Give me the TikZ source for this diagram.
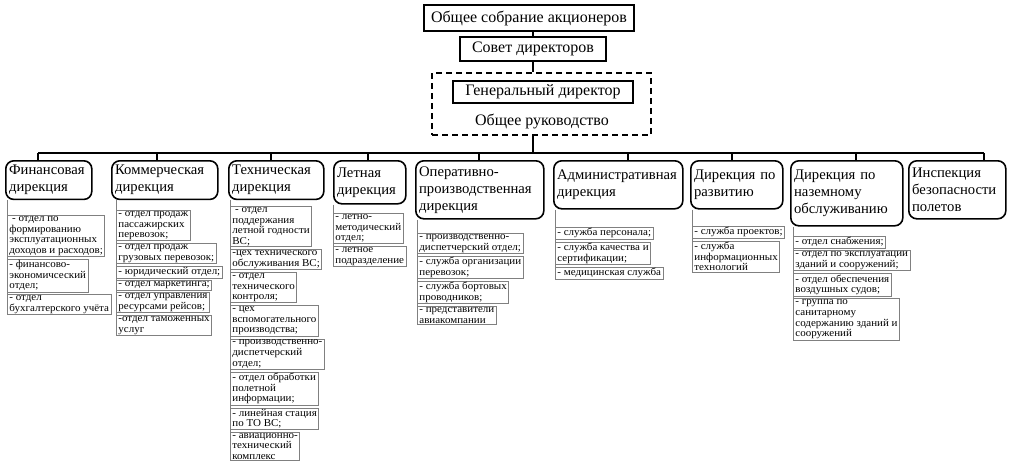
\documentclass[tikz,border=0pt]{standalone}
\usepackage{fontspec}
\setmainfont{Liberation Serif}
\newfontfamily\subfont[FakeStretch=1.05]{Liberation Serif}
\usetikzlibrary{positioning}

\begin{document}
\begin{tikzpicture}[x=0.75pt,y=-0.75pt,line width=1pt]
  \tikzset{topbox/.style={draw, inner sep=1pt, font=\fontsize{12}{14}\selectfont},
    dirbox/.style={draw, line width=1.2pt, rounded corners=6pt, anchor=north west, align=left, inner xsep=2.5pt, font=\fontsize{11}{12.75}\selectfont},
    subbox/.style={draw=gray, line width=0.6pt, anchor=north west, align=left, inner xsep=1.5pt, inner ysep=0.8pt, font=\subfont\fontsize{7.85}{7.95}\selectfont},
    under/.style={below=1.5pt of #1.south west, anchor=north west},
    col/.style={gray, line width=0.6pt}}
  \useasboundingbox (0,0) rectangle (1017,471);

  % top of the structure
  \node[topbox, minimum width=157.5pt, minimum height=19.5pt] (sobr) at (529,18) {Общее собрание акционеров};
  \node[topbox, minimum width=109.5pt, minimum height=18pt] (sovet) at (533,49) {Совет директоров};
  \node[draw, line width=1.1pt, dash pattern=on 4.5pt off 3pt, minimum width=164.25pt, minimum height=46.5pt] (ruk) at (541.5,104) {};
  \node[topbox, minimum width=135pt, minimum height=16.5pt] (gendir) at (543,92) {Генеральный директор};
  \node[font=\fontsize{12}{14}\selectfont, inner sep=0pt] (obruk) at (542,121) {Общее руководство};
  \draw (sobr.south -| sovet) -- (sovet.north);
  \draw (sovet.south) -- (ruk.north -| sovet);

  % directorates
  \node[dirbox, text width=59.5pt, minimum height=26.25pt] (fin) at (5,160) {Финансовая\\дирекция};
  \node[dirbox, text width=74.5pt, minimum height=28.5pt] (kom) at (111,160) {Коммерческая\\дирекция};
  \node[dirbox, text width=66.25pt, minimum height=28.5pt] (tech) at (228,160) {Техническая\\дирекция};
  \node[dirbox, text width=49pt, minimum height=32.25pt] (let) at (333,160) {Летная\\дирекция};
  \node[dirbox, text width=91pt, minimum height=43.5pt] (oper) at (415,160) {Оперативно-\\производственная\\дирекция};
  \node[dirbox, text width=91.75pt, minimum height=36pt] (adm) at (553,160) {Административная\\дирекция};
  \node[dirbox, text width=64pt, minimum height=36pt] (razv) at (690,160) {Дирекция по\\развитию};
  \node[dirbox, text width=79pt, minimum height=48.75pt] (nazem) at (790,160) {Дирекция по\\наземному\\обслуживанию};
  \node[dirbox, text width=67.75pt, minimum height=43.5pt] (insp) at (908,160) {Инспекция\\безопасности\\полетов};

  % bus
  \coordinate (b1) at (38,153);
  \coordinate (b2) at (157,153);
  \coordinate (b3) at (271,153);
  \coordinate (b4) at (368,153);
  \coordinate (b5) at (479,153);
  \coordinate (b6) at (628,153);
  \coordinate (b7) at (732,153);
  \coordinate (b8) at (856,153);
  \coordinate (b9) at (984,153);
  \draw (ruk.south -| sovet) -- (b1 -| sovet);
  \draw (b1) -- (b9);
  \draw (b1) -- (b1 |- fin.north);
  \draw (b2) -- (b2 |- kom.north);
  \draw (b3) -- (b3 |- tech.north);
  \draw (b4) -- (b4 |- let.north);
  \draw (b5) -- (b5 |- oper.north);
  \draw (b6) -- (b6 |- adm.north);
  \draw (b7) -- (b7 |- razv.north);
  \draw (b8) -- (b8 |- nazem.north);
  \draw (b9) -- (b9 |- insp.north);

  % departments
  \node[subbox] (fin1) at (7,215) {\ - отдел по\\формированию\\эксплуатационных\\доходов и расходов;};
  \node[subbox, under=fin1] (fin2) {- финансово-\\экономичсеский\\отдел;};
  \node[subbox, under=fin2] (fin3) {- отдел\\бухгалтерского учёта};

  \node[subbox] (kom1) at (116,210) {- отдел продаж\\пассажирских\\перевозок;};
  \node[subbox, under=kom1] (kom2) {- отдел продаж\\грузовых перевозок;};
  \node[subbox, under=kom2] (kom3) {- юридический отдел;};
  \node[subbox, under=kom3] (kom4) {- отдел маркетинга;};
  \node[subbox, under=kom4] (kom5) {- отдел управления\\ресурсами рейсов;};
  \node[subbox, under=kom5] (kom6) {-отдел таможенных\\услуг};

  \node[subbox] (tech1) at (230,206) {\ - отдел\\поддержания\\летной годности\\ВС;};
  \node[subbox, under=tech1] (tech2) {-цех технического\\обслуживания ВС;};
  \node[subbox, under=tech2] (tech3) {- отдел\\технического\\контроля;};
  \node[subbox, under=tech3] (tech4) {- цех\\вспомогательного\\производства;};
  \node[subbox, under=tech4] (tech5) {- производственно-\\диспетчерский\\отдел;};
  \node[subbox, under=tech5] (tech6) {- отдел обработки\\полетной\\информации;};
  \node[subbox, under=tech6] (tech7) {- линейная стация\\по ТО ВС;};
  \node[subbox, under=tech7] (tech8) {- авиационно-\\технический\\комплекс};

  \node[subbox] (let1) at (333,213) {- летно-\\методический\\отдел;};
  \node[subbox, under=let1] (let2) {- летное\\подразделение};

  \node[subbox] (oper1) at (417,233) {- производственно-\\диспетчерский отдел;};
  \node[subbox, under=oper1] (oper2) {- служба организации\\перевозок;};
  \node[subbox, under=oper2] (oper3) {- служба бортовых\\проводников;};
  \node[subbox, under=oper3] (oper4) {- представители\\авиакомпании};

  \node[subbox] (adm1) at (555,227) {- служба персонала;};
  \node[subbox, under=adm1] (adm2) {- служба качества и\\сертификации;};
  \node[subbox, under=adm2] (adm3) {- медицинская служба};

  \node[subbox] (razv1) at (692,226) {- служба проектов;};
  \node[subbox, under=razv1] (razv2) {- служба\\информационных\\технологий};

  \node[subbox] (nazem1) at (793,236) {- отдел снабжения;};
  \node[subbox, under=nazem1] (nazem2) {- отдел по эксплуатации\\зданий и сооружений;};
  \node[subbox, under=nazem2] (nazem3) {- отдел обеспечения\\воздушных судов;};
  \node[subbox, under=nazem3] (nazem4) {- группа по\\санитарному\\содержанию зданий и\\сооружений};

  % column lines
  \draw[col] (fin1.north west |- fin.south) -- (fin3.south west);
  \draw[col] (kom1.north west |- kom.south) -- (kom6.south west);
  \draw[col] (tech1.north west |- tech.south) -- (tech8.south west);
  \draw[col] (let1.north west |- let.south) -- (let2.south west);
  \draw[col] (oper1.north west |- oper.south) -- (oper4.south west);
  \draw[col] (adm1.north west |- adm.south) -- (adm3.south west);
  \draw[col] (razv1.north west |- razv.south) -- (razv2.south west);
  \draw[col] (nazem1.north west |- nazem.south) -- (nazem4.south west);
\end{tikzpicture}
\end{document}
